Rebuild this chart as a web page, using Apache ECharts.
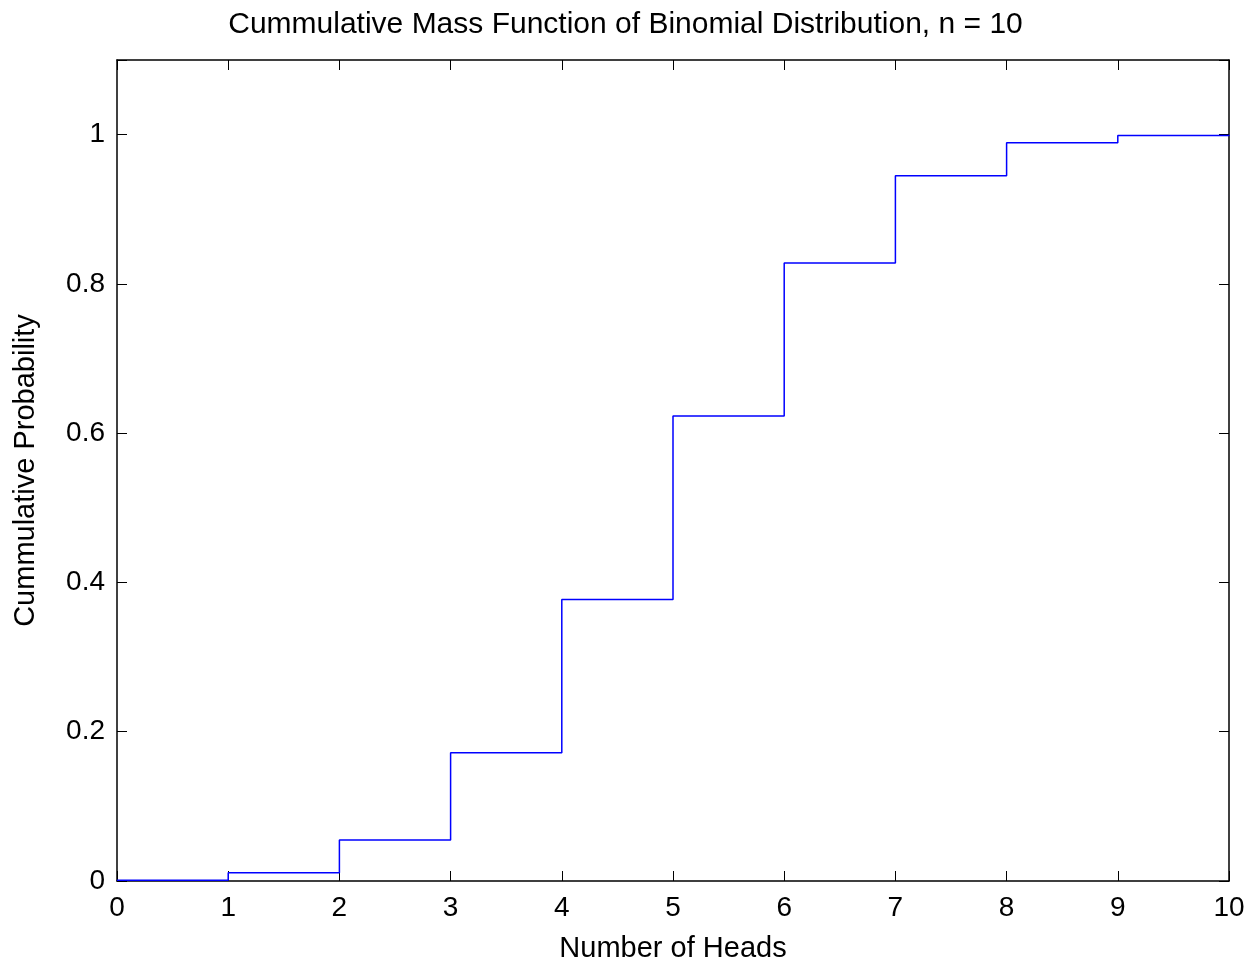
<!DOCTYPE html>
<html lang="en">
<head>
    <meta charset="utf-8">
    <title>binomial cdf</title>
    <script src="https://cdn.jsdelivr.net/npm/echarts@6/dist/echarts.min.js"></script>
    <style>
        html, body { margin: 0; padding: 0; background: #fff; }
    </style>
</head>
<body>
<div id="chart" style="width:1251px; height:963px;"></div>

<script>
    // number of heads and cumulative probability
    var heads = [0, 1, 2, 3, 4, 5, 6, 7, 8, 9, 10];
    var cumProb = [0.001, 0.011, 0.055, 0.172, 0.377, 0.623, 0.828, 0.945, 0.989, 0.999, 1.0];
    var yTicks = [0, 0.2, 0.4, 0.6, 0.8, 1];

    var font = 'Liberation Sans, Arial, sans-serif';
    var points = heads.map(function (h, i) { return [h, cumProb[i]]; });

    var chart = echarts.init(document.getElementById('chart'));

    var axisLine = { show: true, onZero: false, lineStyle: { color: '#000', width: 1.5 } };
    var tickIn = { show: true, inside: true, length: 10, lineStyle: { color: '#000', width: 1 } };

    function yFmt(v) {
        return yTicks.some(function (t) { return Math.abs(t - v) < 1e-9; }) ? String(+v.toFixed(1)) : '';
    }

    chart.setOption({
        animation: false,
        title: {
            text: 'Cummulative Mass Function of Binomial Distribution, n = 10',
            left: 'center',
            top: 5,
            textStyle: { fontFamily: font, fontSize: 30, fontWeight: 'normal', color: '#000' }
        },
        grid: { left: 117, top: 60, width: 1112, height: 821, containLabel: false, outerBoundsMode: 'none' },
        xAxis: [{
            type: 'value',
            min: 0,
            max: 10,
            interval: 1,
            name: 'Number of Heads',
            nameLocation: 'middle',
            nameGap: 53,
            nameTextStyle: { fontFamily: font, fontSize: 29, color: '#000' },
            axisLine: axisLine,
            axisTick: tickIn,
            axisLabel: { fontFamily: font, fontSize: 28, color: '#000', margin: 13 },
            splitLine: { show: false }
        }, {
            type: 'value',
            position: 'top',
            min: 0,
            max: 10,
            interval: 1,
            axisLine: axisLine,
            axisTick: tickIn,
            axisLabel: { show: false },
            splitLine: { show: false }
        }],
        yAxis: [{
            type: 'value',
            min: 0,
            max: 1.1,
            interval: 0.2,
            name: 'Cummulative Probability',
            nameLocation: 'middle',
            nameGap: 77,
            nameTextStyle: { fontFamily: font, fontSize: 29, color: '#000' },
            axisLine: axisLine,
            axisTick: tickIn,
            axisLabel: { fontFamily: font, fontSize: 28, color: '#000', margin: 12, formatter: yFmt },
            splitLine: { show: false }
        }, {
            type: 'value',
            position: 'right',
            min: 0,
            max: 1.1,
            interval: 0.2,
            axisLine: axisLine,
            axisTick: tickIn,
            axisLabel: { show: false },
            splitLine: { show: false }
        }],
        series: [{
            type: 'line',
            step: 'end',
            data: points,
            showSymbol: false,
            lineStyle: { color: '#0000ff', width: 1.5 },
            clip: false
        }]
    });
</script>
</body>
</html>
